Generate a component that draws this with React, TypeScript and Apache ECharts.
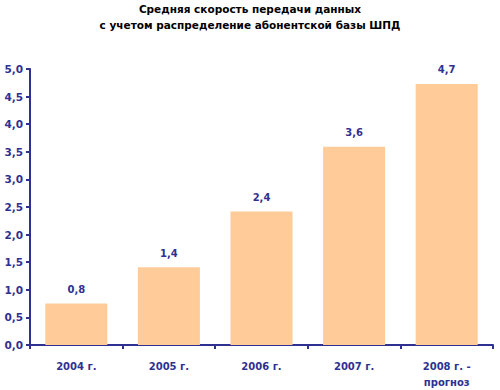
import React, { useEffect, useRef } from "react";
import * as echarts from "echarts";

const categories = ["2004 г.", "2005 г.", "2006 г.", "2007 г.", "2008 г. -\nпрогноз"];
const values = [0.75, 1.41, 2.42, 3.59, 4.73];
const titleLines = ["Средняя скорость передачи данных", "с учетом распределение абонентской базы ШПД"];

const NAVY = "#2E3192";
const FONT = "DejaVu Sans";

export default function App() {
  const ref = useRef<HTMLDivElement>(null);
  useEffect(() => {
    const chart = echarts.init(ref.current!, null, { renderer: "svg" });
    chart.setOption({
      animation: false,
      backgroundColor: "#ffffff",
      title: {
        text: titleLines.join("\n"),
        left: "center",
        top: -4,
        textStyle: { fontFamily: FONT, fontSize: 10.5, fontWeight: "bold", color: "#000", lineHeight: 16 },
      },
      grid: { left: 30, right: 7, top: 69, bottom: 44, containLabel: false },
      xAxis: {
        type: "category",
        data: categories,
        axisLine: { lineStyle: { color: NAVY, width: 2 } },
        axisTick: { show: true, length: 4, lineStyle: { color: NAVY, width: 2 } },
        axisLabel: { color: NAVY, fontFamily: FONT, fontSize: 10, fontWeight: "bold", margin: 13, lineHeight: 16 },
      },
      yAxis: {
        type: "value",
        min: 0,
        max: 5,
        interval: 0.5,
        splitLine: { show: false },
        axisLine: { show: true, lineStyle: { color: NAVY, width: 2 } },
        axisTick: { show: true, length: 4, lineStyle: { color: NAVY, width: 2 } },
        axisLabel: {
          color: NAVY,
          fontFamily: FONT,
          fontSize: 10.5,
          fontWeight: "bold",
          margin: 7,
          formatter: (v: number) => v.toFixed(1).replace(".", ","),
        },
      },
      series: [
        {
          type: "bar",
          data: values,
          barCategoryGap: "33%",
          itemStyle: { color: "#FFCC99" },
          label: {
            show: true,
            position: "top",
            distance: 9,
            color: NAVY,
            fontFamily: FONT,
            fontSize: 10,
            fontWeight: "bold",
            formatter: (p: any) => (p.value as number).toFixed(1).replace(".", ","),
          },
        },
      ],
    });
    return () => chart.dispose();
  }, []);
  return <div ref={ref} style={{ width: 500, height: 390, position: "absolute", left: 0, top: 0 }} />;
}
